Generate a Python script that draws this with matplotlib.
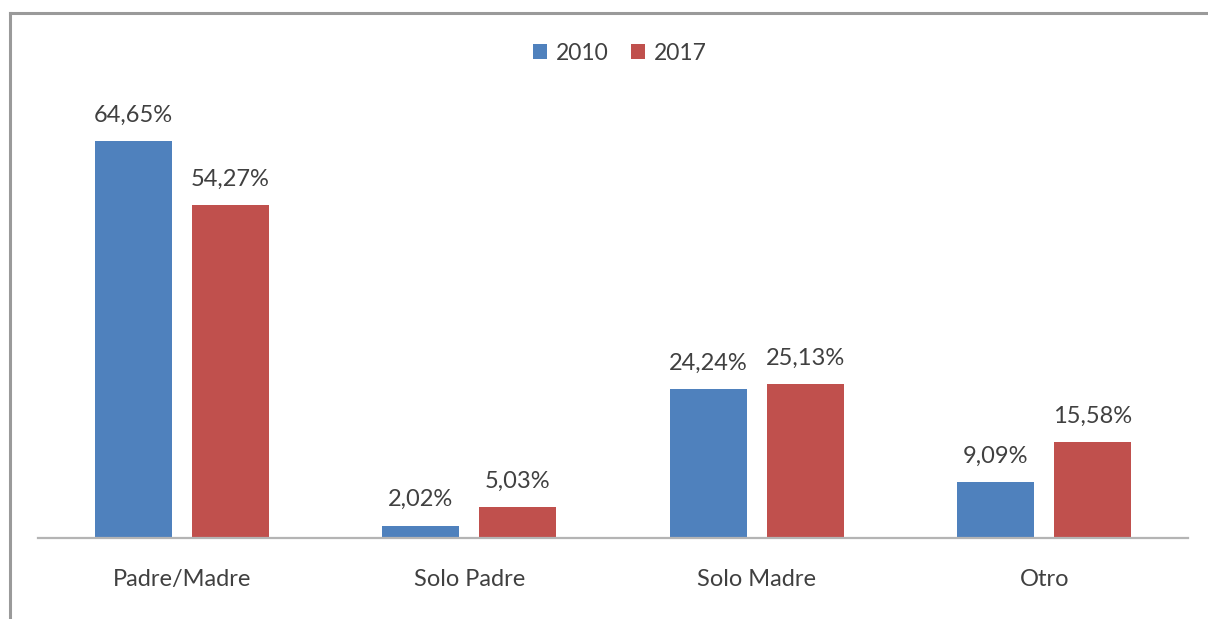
import numpy as np
import matplotlib.pyplot as plt
from matplotlib.lines import Line2D

plt.rcParams['font.family'] = ['Lato', 'DejaVu Sans']

categorias = ['Padre/Madre', 'Solo Padre', 'Solo Madre', 'Otro']
anios = ['2010', '2017']
valores_2010 = [64.65, 2.02, 24.24, 9.09]
valores_2017 = [54.27, 5.03, 25.13, 15.58]
colores = ['#4F81BD', '#C0504D']
texto = '#404040'

fig = plt.figure(figsize=(12.08, 6.19), dpi=100)
ax = fig.add_axes([38 / 1208, 1 - 538 / 619, 1150 / 1208, 430 / 619])

x = np.arange(len(categorias))
ancho = 0.268
desp = 0.168
series = [valores_2010, valores_2017]
for i, vals in enumerate(series):
    barras = ax.bar(x + (2 * i - 1) * desp, vals, ancho, color=colores[i], label=anios[i])
    for b, v in zip(barras, vals):
        ax.annotate(f'{v:.2f}%'.replace('.', ','),
                    (b.get_x() + b.get_width() / 2, v),
                    xytext=(0, 11), textcoords='offset points',
                    ha='center', va='bottom', fontsize=17, color=texto)

ax.set_xlim(-0.5, 3.5)
ax.set_ylim(0, 70)
ax.set_xticks(x)
ax.set_xticklabels(categorias, fontsize=17, color=texto)
ax.tick_params(axis='x', length=0, pad=22)
ax.set_yticks([])
for s in ['top', 'right', 'left']:
    ax.spines[s].set_visible(False)
ax.spines['bottom'].set_color('#B4B4B4')
ax.spines['bottom'].set_linewidth(1.6)

leg = fig.legend(loc='center', bbox_to_anchor=(620 / 1208, 1 - 53 / 619), ncol=2,
                 frameon=False, fontsize=16.5, handlelength=0.6, handleheight=0.6,
                 handletextpad=0.4, columnspacing=1.0)
for t in leg.get_texts():
    t.set_color(texto)

# marco gris del grafico (solo arriba e izquierda quedan visibles)
fig.add_artist(Line2D([10 / 1208, 1], [1 - 13 / 619, 1 - 13 / 619], color='#9A9A9A', lw=2.2))
fig.add_artist(Line2D([10 / 1208, 10 / 1208], [0, 1 - 13 / 619], color='#9A9A9A', lw=2.2))

fig.savefig('out.png', dpi=100)
